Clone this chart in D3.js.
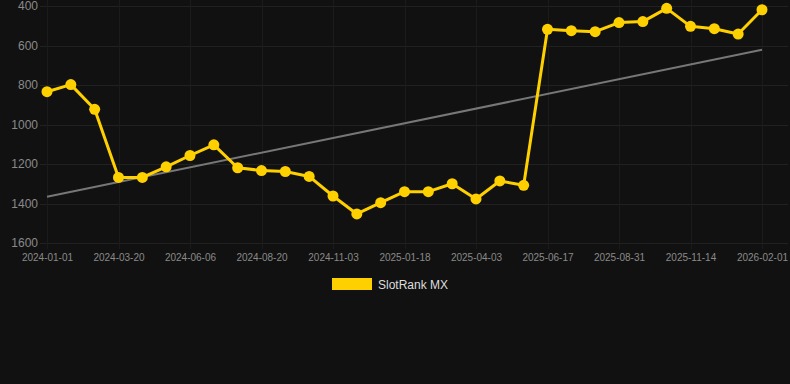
<!DOCTYPE html>
<html>
<head>
<meta charset="utf-8">
<script src="https://cdn.jsdelivr.net/npm/d3@7"></script>
<style>
  body { margin: 0; background: #111111; }
  svg { display: block; font-family: "Liberation Sans", Arial, sans-serif; }
</style>
</head>
<body>
<svg id="chart" width="790" height="384"></svg>
<script>
// ranks, one point per period (lower rank is drawn higher)
const rankValues = [834, 798, 923, 1268, 1268, 1214, 1157, 1103, 1219, 1233, 1238, 1263, 1362, 1453, 1396,
	1340, 1340, 1300, 1377, 1286, 1308, 518, 525, 530, 484, 479, 412, 503, 515, 542, 419]
// labels shown on every third point
const xTickLabels = ['2024-01-01', '2024-03-20', '2024-06-06', '2024-08-20', '2024-11-03', '2025-01-18',
	'2025-04-03', '2025-06-17', '2025-08-31', '2025-11-14', '2026-02-01']
const yTicks = [400, 600, 800, 1000, 1200, 1400, 1600]
// trend line value at first and last point
const trendValues = [1366, 622]
const seriesName = 'SlotRank MX'

const plotLeft = 47,
	plotRight = 762,
	plotTop = 6,
	plotBottom = 243

const svg = d3.select('#chart')

const xScale = d3.scaleLinear().domain([0, rankValues.length - 1]).range([plotLeft, plotRight])
const yScale = d3.scaleLinear().domain([400, 1600]).range([plotTop, plotBottom])

//horizontal grid
svg.append('g')
	.selectAll('line')
	.data(yTicks)
	.enter()
	.append('line')
	.attr('x1', 40)
	.attr('x2', 788)
	.attr('y1', d => Math.round(yScale(d)) + 0.5)
	.attr('y2', d => Math.round(yScale(d)) + 0.5)
	.attr('stroke', '#212121')

//vertical grid, one line per label
const tickIdx = xTickLabels.map((d, i) => i * 3)
svg.append('g')
	.selectAll('line')
	.data(tickIdx)
	.enter()
	.append('line')
	.attr('x1', d => Math.round(xScale(d)) + 0.5)
	.attr('x2', d => Math.round(xScale(d)) + 0.5)
	.attr('y1', 0)
	.attr('y2', plotBottom + 6)
	.attr('stroke', '#1b1b1b')

//y axis labels
const yAxis = d3.axisLeft(yScale).tickValues(yTicks).tickFormat(d3.format('d')).tickSize(0).tickPadding(0)
const gy = svg.append('g').attr('transform', 'translate(38,0)').call(yAxis)
gy.select('.domain').remove()
gy.selectAll('text').attr('fill', '#8a8a8a').style('font-size', '12px')

//x axis labels
const xAxis = d3.axisBottom(xScale)
	.tickValues(tickIdx)
	.tickFormat((d, i) => xTickLabels[i])
	.tickSize(0)
	.tickPadding(0)
const gx = svg.append('g').attr('transform', 'translate(0,' + (plotBottom + 11) + ')').call(xAxis)
gx.select('.domain').remove()
gx.selectAll('text').attr('fill', '#8a8a8a').style('font-size', '10px')

//trend line
svg.append('line')
	.attr('x1', xScale(0))
	.attr('x2', xScale(rankValues.length - 1))
	.attr('y1', yScale(trendValues[0]))
	.attr('y2', yScale(trendValues[1]))
	.attr('stroke', '#777777')
	.attr('stroke-width', 2)

//series line
const line = d3.line()
	.x((d, i) => xScale(i))
	.y(d => yScale(d))

svg.append('path')
	.datum(rankValues)
	.attr('d', line)
	.attr('fill', 'none')
	.attr('stroke', '#FFD000')
	.attr('stroke-width', 3)
	.attr('stroke-linejoin', 'round')

svg.append('g')
	.selectAll('circle')
	.data(rankValues)
	.enter()
	.append('circle')
	.attr('cx', (d, i) => xScale(i))
	.attr('cy', d => yScale(d))
	.attr('r', 5.5)
	.attr('fill', '#FFD000')

//legend
svg.append('rect')
	.attr('x', 332)
	.attr('y', 278)
	.attr('width', 40)
	.attr('height', 12)
	.attr('fill', '#FFD000')
svg.append('text')
	.attr('x', 378)
	.attr('y', 288.5)
	.attr('fill', '#dddddd')
	.style('font-size', '12px')
	.text(seriesName)
</script>
</body>
</html>
